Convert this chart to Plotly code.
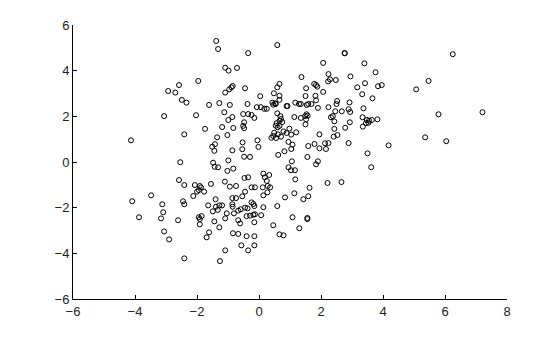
import plotly.graph_objects as go

# Data values
x_vals = [
    -1.38, -1.32, -1.09, -0.98, -0.71, -1.96, -2.58, -2.93, -2.70, -2.49,
    -2.34, -1.61, -1.28, -0.94, -0.89, -0.85, -0.96, -1.09, -0.45,
    0.59, -0.35, 2.76, 2.77, 2.07, 3.40, 1.37, 2.24, 2.29, 2.23, 2.48,
    2.95, 0.66, 0.59, 1.52, 1.78, 1.84, 1.88, 3.17, 3.42, 2.07,
    0.48, 0.66, 0.04, 1.50, 1.82, 3.33, 0.66, 0.52, 0.43, 0.46,
    0.54, 1.84, 1.17, 1.29, 1.35, 1.54, 1.59, 1.69, 2.52, 2.50,
    2.92, -0.37, -0.07, 0.06, 0.17, 0.25, 0.89, 0.92, 1.90, 2.24,
    2.89, 3.37, 6.25, 3.76, 3.84, 3.96, 5.47, 5.07, 3.66,
    -3.06, -2.03, -1.12, -0.86, -0.99, -0.51, -0.48, -0.51, -0.48, -2.41,
    -1.74, -1.19, -1.02, -0.83, -1.35, -1.42, -1.51, -1.44, -4.13, -0.86,
    -0.53, -0.54, -0.48, -2.54, -1.48, -1.43, -1.32, -0.99, -1.02, -0.83,
    -0.47, -2.58, -2.41, -2.07, -1.91, -1.87, -1.94, -2.00, -1.77, -2.12,
    -1.55, -1.10, -0.94, -0.74,
    -0.35, -0.24, -0.15, 0.59, 0.69, 0.71, 0.66, 0.75, 0.57, 0.54,
    0.66, 0.60, 1.14, 1.35, 1.49, 1.53, 1.57, 1.52, 1.50, 2.46,
    2.67, 2.94, 2.32, 2.38, 2.43, 2.93, 3.34, 0.98, 0.79, 0.89,
    1.04, 1.20, 0.49, 0.61, 0.46, 0.40, 0.55, 0.71, 2.43, 2.78,
    3.35, 1.95, 2.41, 2.53, -0.05, -0.02, 0.95, 1.08, 1.04, 1.59,
    1.79, 1.95, 2.13, 2.24, 2.16, 2.89, 0.82, 0.62, -0.29, 1.56,
    1.06, 1.90, 1.84, 0.95, 1.03, 1.16, 0.14, 0.33, 0.19, 0.25,
    -0.35, 1.17, 2.21, 2.66, -0.24, -0.13, 0.12, 0.28, 0.36, 1.63,
    5.79, 7.21, 3.48, 3.55, 3.64, 3.82, 3.45, 3.53, 5.36, 6.04,
    4.18, 3.50, 3.62,
    -3.48, -4.09, -3.12, -3.87, -3.09, -3.16, -2.61, -3.06, -2.90, -2.45,
    -2.41, -1.64, -1.40, -1.39, -1.28, -1.19, -1.49, -1.33, -0.86, -0.74,
    -0.54, -0.45, -0.86, -0.85, -1.04, -0.81, -0.67, -0.59, -1.94, -1.91,
    -1.85, -1.09, -1.44, -1.28, -0.67, -0.61, -1.91, -1.61, -1.69, -0.84,
    -0.67, -0.57, -1.09, -2.41, -1.26, -0.45,
    0.14, 0.27, 0.84, 1.14, 1.43, 1.59, -0.24, -0.18, -0.37, -0.15,
    0.14, 0.59, -0.40, -0.29, -0.18, -0.13, 0.07, -0.15, 1.08, 1.56,
    1.56, 0.46, 1.30, 0.66, 0.79, -0.40, -0.15, -0.15, -0.35,
]
y_vals = [
    5.30, 4.95, 4.13, 4.00, 4.12, 3.55, 3.37, 3.11, 3.04, 2.72,
    2.60, 2.50, 2.58, 2.50, 3.27, 3.33, 3.18, 3.04, 3.23,
    5.12, 4.77, 4.77, 4.76, 4.34, 4.32, 3.72, 3.85, 3.62, 3.53, 3.59,
    3.75, 3.42, 3.27, 3.23, 3.42, 3.37, 3.30, 3.27, 3.45, 3.07,
    3.01, 2.90, 2.88, 2.89, 2.90, 2.97, 2.72, 2.57, 2.60, 2.51,
    2.54, 2.70, 2.60, 2.54, 2.54, 2.50, 2.54, 2.54, 2.67, 2.54,
    2.61, 2.54, 2.40, 2.40, 2.33, 2.33, 2.45, 2.45, 2.37, 2.40,
    2.31, 2.35, 4.72, 3.93, 3.32, 3.37, 3.55, 3.18, 2.79,
    2.01, 2.05, 2.18, 1.97, 1.84, 2.10, 1.74, 1.58, 1.48, 1.21,
    1.45, 1.53, 1.18, 1.49, 1.08, 0.78, 0.67, 0.49, 0.95, 0.51,
    0.86, 0.56, 0.23, -0.01, -0.03, -0.21, -0.23, 0.07, -0.39, -0.29,
    -0.70, -0.79, -1.01, -1.01, -1.05, -1.11, -1.23, -1.30, -1.30, -1.49,
    -0.96, -0.86, -1.08, -1.05,
    2.10, 2.06, 1.93, 2.13, 2.01, 1.88, 1.80, 1.75, 1.70, 1.59,
    1.58, 1.52, 1.97, 1.93, 2.01, 2.09, 2.03, 1.87, 1.65, 2.22,
    2.22, 2.19, 1.96, 2.01, 1.78, 1.74, 1.96, 1.46, 1.34, 1.27,
    1.20, 1.30, 1.28, 1.21, 1.14, 1.06, 1.05, 1.11, 1.45, 1.50,
    1.55, 1.21, 1.11, 1.18, 0.95, 0.66, 0.88, 0.76, 0.57, 0.70,
    0.79, 0.60, 0.82, 0.83, 0.57, 0.83, 0.47, 0.31, 0.22, 0.22,
    0.03, 0.03, -0.10, -0.23, -0.36, -0.36, -0.51, -0.57, -0.67, -0.83,
    -0.67, -0.76, -0.92, -0.88, -1.11, -1.11, -1.11, -1.05, -1.11, -1.13,
    2.09, 2.18, 1.84, 1.81, 1.84, 1.87, 1.70, 1.72, 1.08, 0.91,
    0.73, 0.38, -0.23,
    -1.46, -1.72, -1.85, -2.42, -2.20, -2.47, -2.55, -3.04, -3.39, -1.72,
    -1.85, -1.90, -1.63, -1.96, -1.90, -1.90, -2.16, -2.10, -1.58, -1.58,
    -1.50, -1.30, -1.85, -1.96, -2.25, -2.25, -2.13, -2.07, -2.42, -2.50,
    -2.37, -2.47, -2.60, -2.86, -2.55, -2.69, -2.73, -3.08, -3.30, -3.12,
    -3.15, -3.65, -3.87, -4.22, -4.34, -2.00,
    -1.46, -1.33, -1.55, -1.37, -1.63, -1.50, -1.77, -1.84, -2.03, -1.93,
    -1.98, -1.93, -2.37, -2.35, -2.31, -2.29, -2.33, -2.64, -2.42, -2.45,
    -2.50, -2.77, -2.90, -3.17, -3.21, -3.25, -3.25, -3.65, -3.87,
]

x_ticks = [-6, -4, -2, 0, 2, 4, 6, 8]
y_ticks = [-6, -4, -2, 0, 2, 4, 6]

fig = go.Figure()
fig.add_trace(go.Scatter(
    x=x_vals, y=y_vals, mode="markers",
    marker=dict(symbol="circle-open", size=5, color="black",
                line=dict(width=1, color="black")),
    showlegend=False, hoverinfo="skip",
))

axis_common = dict(
    showgrid=False, zeroline=False, showline=True, linecolor="black",
    linewidth=1, ticks="inside", ticklen=4, tickcolor="black", tickwidth=1,
    tickfont=dict(family="Liberation Sans, Arial, sans-serif", size=13,
                  color="#222222"),
    mirror=False,
)

fig.update_xaxes(range=[-6, 8], tickvals=x_ticks, **axis_common)
fig.update_yaxes(range=[-6, 6], tickvals=y_ticks, **axis_common)

fig.update_layout(
    width=560, height=337,
    margin=dict(l=73, r=53, t=25, b=38),
    plot_bgcolor="white", paper_bgcolor="white",
)

fig.write_html("out.html")
